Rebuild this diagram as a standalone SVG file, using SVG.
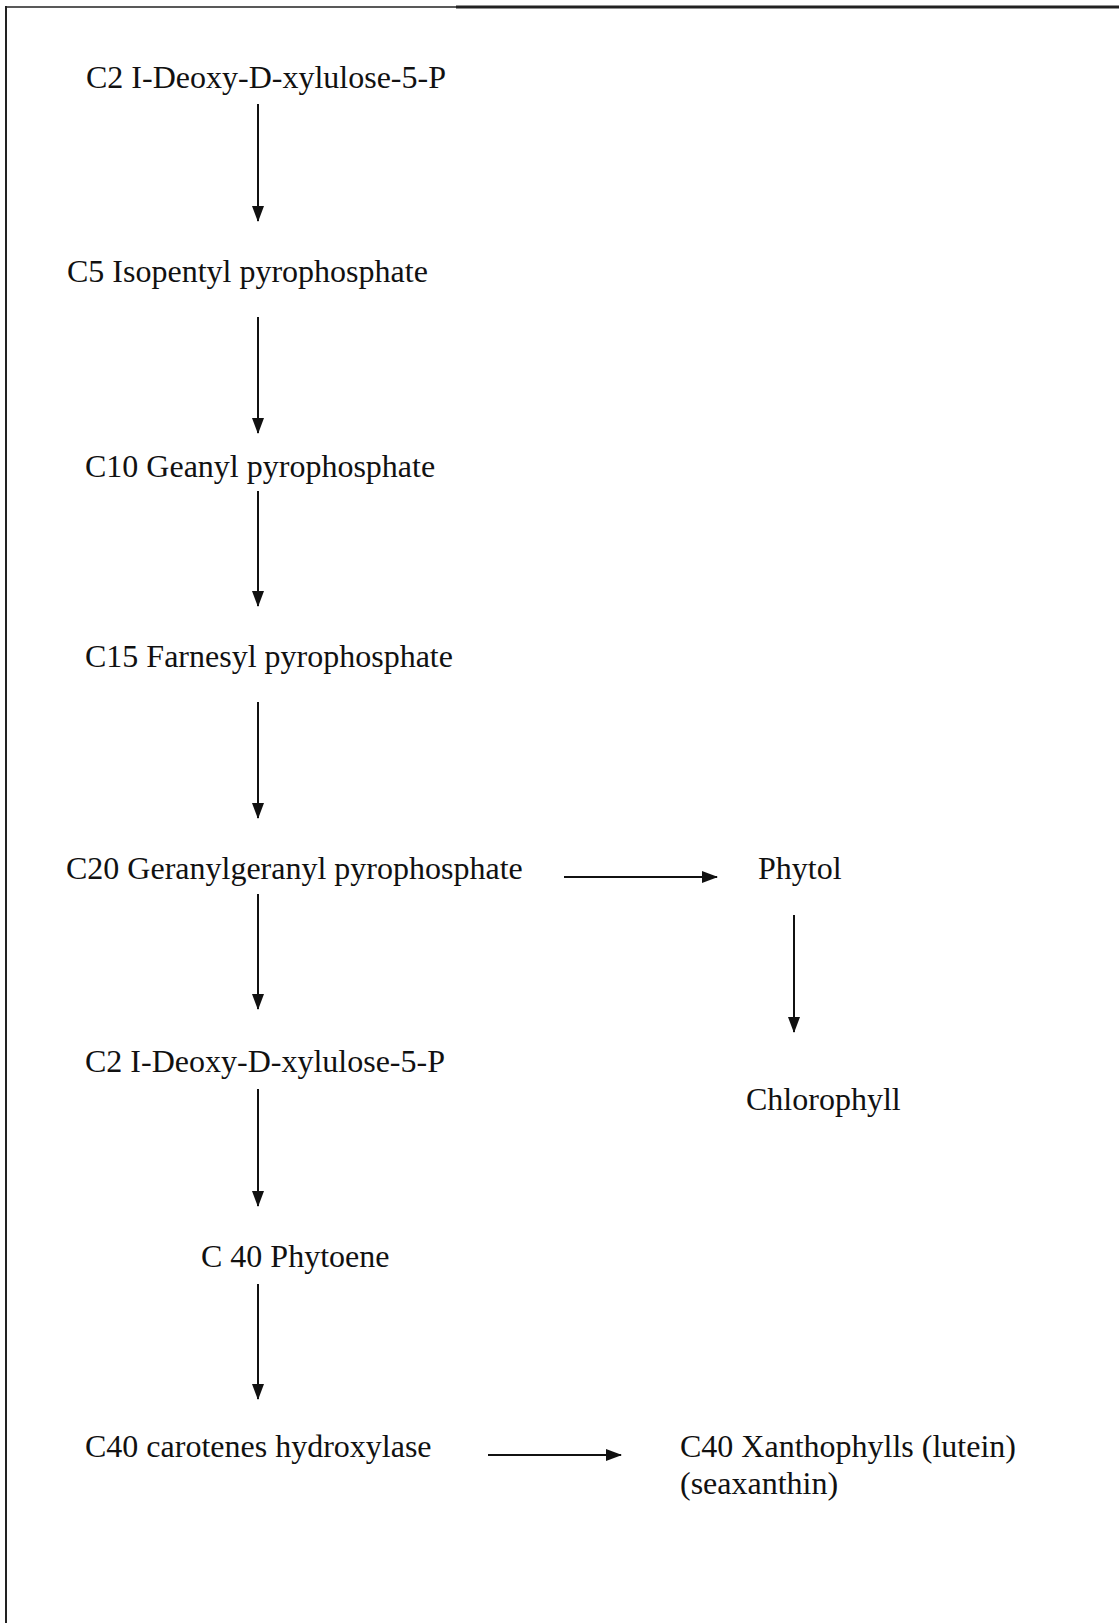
<svg xmlns="http://www.w3.org/2000/svg" width="1119" height="1623" viewBox="0 0 1119 1623">
<style>
  .t { font-family: "Liberation Serif", "Times New Roman", serif; font-size: 32px; fill: #111; }
  .c { stroke: #111; stroke-width: 2; fill: none; }
  .frame { stroke: #222; fill: none; }
</style>
<defs>
  <marker id="ah" markerWidth="16" markerHeight="12" refX="15" refY="6" viewBox="0 0 16 12" markerUnits="userSpaceOnUse" orient="auto">
    <path d="M0,0 L16,6 L0,12 Z" fill="#111"/>
  </marker>
</defs>
<rect width="1119" height="1623" fill="#fff"/>
<g id="frame">
  <line class="frame" x1="6" y1="7" x2="458" y2="7" stroke-width="1.5"/>
  <line class="frame" x1="456" y1="7" x2="1119" y2="7" stroke-width="3"/>
  <line class="frame" x1="6" y1="6" x2="6" y2="1623" stroke-width="2"/>
</g>
<g id="connectors">
  <line class="c" x1="258" y1="104" x2="258" y2="221" marker-end="url(#ah)"/>
  <line class="c" x1="258" y1="317" x2="258" y2="433" marker-end="url(#ah)"/>
  <line class="c" x1="258" y1="491" x2="258" y2="606" marker-end="url(#ah)"/>
  <line class="c" x1="258" y1="702" x2="258" y2="818" marker-end="url(#ah)"/>
  <line class="c" x1="258" y1="894" x2="258" y2="1009" marker-end="url(#ah)"/>
  <line class="c" x1="258" y1="1089" x2="258" y2="1206" marker-end="url(#ah)"/>
  <line class="c" x1="258" y1="1284" x2="258" y2="1399" marker-end="url(#ah)"/>
  <line class="c" x1="564" y1="877" x2="717" y2="877" stroke-width="1.5" marker-end="url(#ah)"/>
  <line class="c" x1="794" y1="915" x2="794" y2="1032" marker-end="url(#ah)"/>
  <line class="c" x1="488" y1="1455" x2="621" y2="1455" stroke-width="3" marker-end="url(#ah)"/>
</g>
<g id="n1"><text class="t" x="86" y="88">C2 I-Deoxy-D-xylulose-5-P</text></g>
<g id="n2"><text class="t" x="67" y="282">C5 Isopentyl pyrophosphate</text></g>
<g id="n3"><text class="t" x="85" y="477">C10 Geanyl pyrophosphate</text></g>
<g id="n4"><text class="t" x="85" y="667">C15 Farnesyl pyrophosphate</text></g>
<g id="n5"><text class="t" x="66" y="879">C20 Geranylgeranyl pyrophosphate</text></g>
<g id="n6"><text class="t" x="758" y="879">Phytol</text></g>
<g id="n7"><text class="t" x="85" y="1072">C2 I-Deoxy-D-xylulose-5-P</text></g>
<g id="n8"><text class="t" x="746" y="1110">Chlorophyll</text></g>
<g id="n9"><text class="t" x="201" y="1267">C 40 Phytoene</text></g>
<g id="n10"><text class="t" x="85" y="1457">C40 carotenes hydroxylase</text></g>
<g id="n11"><text class="t" x="680" y="1457">C40 Xanthophylls (lutein)</text><text class="t" x="680" y="1494">(seaxanthin)</text></g>
</svg>
